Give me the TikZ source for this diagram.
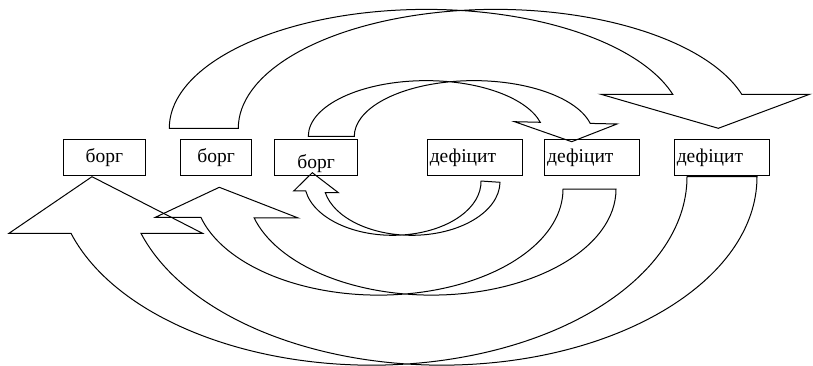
\documentclass[tikz,border=0pt]{standalone}
\usepackage{fontspec}
\setmainfont{Liberation Serif}
\usetikzlibrary{calc}
\begin{document}
\begin{tikzpicture}[x=1pt,y=1pt,
  font=\fontsize{19.5}{23}\selectfont,
  band/.style={draw=black, line width=1pt, line join=miter},
  box/.style={draw=black, line width=1pt, minimum height=36pt, inner sep=0pt,
    text height=13pt, text depth=4pt},
  debtbox/.style={box, align=center},
  defbox/.style={box, inner xsep=2.5pt, align=left},
]
\useasboundingbox (0,0) rectangle (813,366);

% the six labelled boxes
\node[debtbox, minimum width=82.7pt] (b1) at (104.35,208) {борг};
\node[debtbox, minimum width=71pt] (b2) at (216.2,208) {борг};
\node[debtbox, minimum width=83pt, text height=22pt, text depth=1.4pt] (b3) at (316.2,208) {борг};
\node[defbox, text width=89.7pt] (d1) at (474.65,208) {дефіцит};
\node[defbox, text width=90pt] (d2) at (592.2,208) {дефіцит};
\node[defbox, text width=89.7pt] (d3) at (721.65,208) {дефіцит};

% centres of the paired ellipses that bound each curved band
\coordinate (aL) at (392.7,184.4);  \coordinate (aR) at (411.7,184.4);
\coordinate (bL) at (378.6,176.85); \coordinate (bR) at (431.6,176.85);
\coordinate (cL) at (371.7,189.3);  \coordinate (cR) at (441.7,189.3);
\coordinate (dL) at (426.2,229.65); \coordinate (dR) at (473.9,229.65);
\coordinate (eL) at (426.4,237.7);  \coordinate (eR) at (495.4,237.7);

% lower bands: from a deficit box round to a debt box
\draw[band] ($(aL)+(190.08:88.32pt and 53.7pt)$)
  arc[start angle=190.08, end angle=360.6, x radius=88.32pt, y radius=53.7pt]
  -- ($(aR)+(359.25:88.32pt and 53.7pt)$)
  arc[start angle=359.25, end angle=191.93, x radius=88.32pt, y radius=53.7pt]
  -- (338.4,173.3) -- (312.3,193.3) -- (293.7,175) -- cycle;

\draw[band] ($(bL)+(195.41:184.4pt and 105.95pt)$)
  arc[start angle=195.41, end angle=360, x radius=184.4pt, y radius=105.95pt]
  -- ($(bR)+(0:184.4pt and 105.95pt)$)
  arc[start angle=360, end angle=195.8, x radius=184.4pt, y radius=105.95pt]
  -- (298.2,148) -- (219.3,178.7) -- (155.4,148.7) -- cycle;

\draw[band] ($(cL)+(197.48:315.3pt and 188.45pt)$)
  arc[start angle=197.48, end angle=360, x radius=315.3pt, y radius=188.45pt]
  -- ($(cR)+(0:315.3pt and 188.45pt)$)
  arc[start angle=360, end angle=197.48, x radius=315.3pt, y radius=188.45pt]
  -- (202.5,132.7) -- (92,189.3) -- (9,132.7) -- cycle;

% upper bands: from a debt box over to a deficit box
\draw[band] ($(dL)+(180:117.9pt and 55.7pt)$)
  arc[start angle=180, end angle=14.61, x radius=117.9pt, y radius=55.7pt]
  -- (514.5,244.3) -- (571.7,224.3) -- (617,242)
  -- ($(dR)+(13.44:119.6pt and 55.7pt)$)
  arc[start angle=13.44, end angle=180, x radius=119.6pt, y radius=55.7pt]
  -- cycle;

\draw[band] ($(eL)+(180:257.1pt and 118.9pt)$)
  arc[start angle=180, end angle=16.62, x radius=257.1pt, y radius=118.9pt]
  -- (601,271.7) -- (718.3,237.7) -- (809.5,271.7)
  -- ($(eR)+(16.62:257.1pt and 118.9pt)$)
  arc[start angle=16.62, end angle=180, x radius=257.1pt, y radius=118.9pt]
  -- cycle;
\end{tikzpicture}
\end{document}
